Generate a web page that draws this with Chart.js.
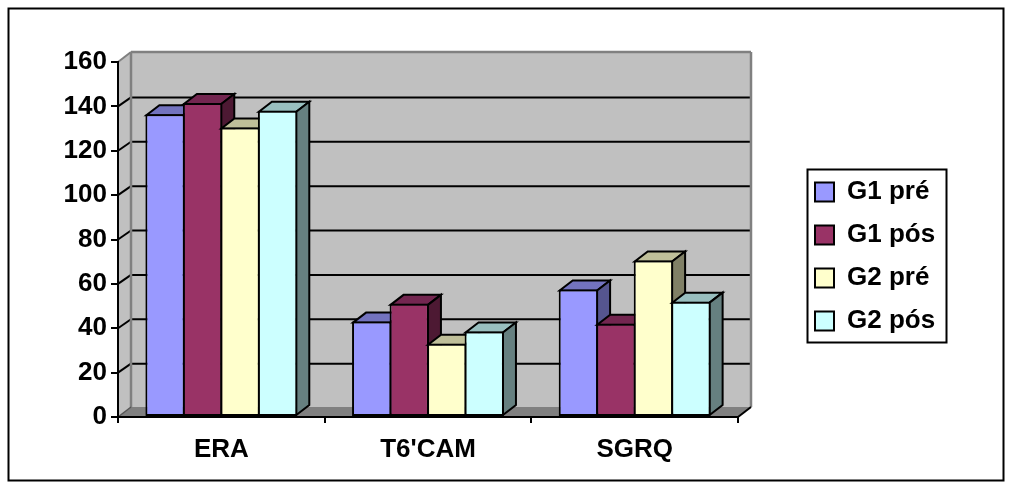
<!DOCTYPE html>
<html><head><meta charset="utf-8">
<script src="https://cdn.jsdelivr.net/npm/chart.js@4"></script>
<style>html,body{margin:0;padding:0;background:#fff}canvas{display:block}</style>
</head><body><canvas id="c" width="1013" height="485"></canvas>
<script>
const categories = ["ERA", "T6'CAM", "SGRQ"];
const g1Pre = [136.5, 43, 57.5];
const g1Pos = [141.5, 51, 42];
const g2Pre = [130.5, 33, 70.5];
const g2Pos = [138, 38.5, 52];
const seriesNames = ["G1 pré", "G1 pós", "G2 pré", "G2 pós"];
const frontColors = ["#9999ff", "#993366", "#ffffcc", "#ccffff"];
const topColors = ["#7373bf", "#732650", "#bfbf99", "#99bfbf"];
const sideColors = ["#55558f", "#4d1933", "#808066", "#668080"];
const DX = 13, DY = 10;
const FONT = {family: "'Liberation Sans', Arial, sans-serif", weight: "bold", size: 26};

function poly(ctx, pts, fill, stroke, w) {
  ctx.beginPath();
  pts.forEach((p, i) => i ? ctx.lineTo(p[0], p[1]) : ctx.moveTo(p[0], p[1]));
  ctx.closePath();
  if (fill) { ctx.fillStyle = fill; ctx.fill(); }
  if (stroke) { ctx.strokeStyle = stroke; ctx.lineWidth = w; ctx.stroke(); }
}
function line(ctx, x1, y1, x2, y2, color, w) {
  ctx.beginPath(); ctx.moveTo(x1, y1); ctx.lineTo(x2, y2);
  ctx.strokeStyle = color; ctx.lineWidth = w; ctx.stroke();
}

const chart3d = {
  id: "chart3d",
  beforeDraw(chart) {
    const {ctx, chartArea: a, scales} = chart;
    ctx.save();
    ctx.fillStyle = "#fff"; ctx.fillRect(0, 0, chart.width, chart.height);
    ctx.strokeStyle = "#000"; ctx.lineWidth = 2; ctx.strokeRect(8.5, 8.5, 995, 472);
    const l = a.left, r = a.right, t = a.top, b = a.bottom;
    poly(ctx, [[l, b], [l + DX, b - DY], [l + DX, t - DY], [l, t]], "#c0c0c0");
    poly(ctx, [[l + DX, b - DY], [r + DX, b - DY], [r + DX, t - DY], [l + DX, t - DY]], "#c0c0c0");
    poly(ctx, [[l, b], [l + DX, b - DY], [r + DX, b - DY], [r, b]], "#808080");
    scales.y.ticks.forEach(tk => {
      const y = scales.y.getPixelForValue(tk.value);
      if (tk.value > scales.y.min && tk.value < scales.y.max) {
        line(ctx, l, y, l + DX, y - DY + 1, "#000", 2);
        line(ctx, l + DX, y - DY + 1, r + DX, y - DY + 1, "#000", 2);
      }
    });
    line(ctx, l, t, l + DX, t - DY, "#808080", 2);
    line(ctx, l + DX, t - DY, r + DX, t - DY, "#808080", 2.5);
    line(ctx, l + DX, t - DY, l + DX, b - DY, "#808080", 2.5);
    line(ctx, r + DX, t - DY, r + DX, b - DY, "#808080", 2.5);
    line(ctx, l, b, l + DX, b - DY, "#555", 1.5);
    line(ctx, r, b, r + DX, b - DY, "#000", 2);
    ctx.restore();
  },
  beforeDatasetsDraw(chart) {
    const {ctx} = chart;
    ctx.save();
    ctx.lineJoin = "miter";
    const nCat = categories.length, nSer = chart.data.datasets.length;
    for (let c = 0; c < nCat; c++) {
      for (let s = 0; s < nSer; s++) {
        const el = chart.getDatasetMeta(s).data[c];
        const {x, y, base, width} = el.getProps(["x", "y", "base", "width"], true);
        const L = x - width / 2 + 1, R = x + width / 2 - 1, T = y + 1, B = base - 1;
        poly(ctx, [[L, T], [R, T], [R + DX, T - DY], [L + DX, T - DY]], topColors[s], "#000", 2);
        poly(ctx, [[R, T], [R + DX, T - DY], [R + DX, B - DY], [R, B]], sideColors[s], "#000", 2);
        el.draw(ctx);
      }
    }
    ctx.restore();
    return false;
  },
  afterDraw(chart) {
    const {ctx} = chart;
    ctx.save();
    ctx.strokeStyle = "#000"; ctx.lineWidth = 2;
    ctx.strokeRect(807.5, 169.5, 139, 173);
    ctx.restore();
  },
  afterLayout(chart) {
    const lg = chart.legend;
    lg.left = 798; lg.top = 162;
    lg.right = 798 + lg.width; lg.bottom = 162 + lg.height;
  }
};

const series = [g1Pre, g1Pos, g2Pre, g2Pos];
new Chart(document.getElementById("c"), {
  type: "bar",
  plugins: [chart3d],
  data: {
    labels: categories,
    datasets: series.map((d, i) => ({
      label: seriesNames[i], data: d,
      backgroundColor: frontColors[i], borderColor: "#000", borderWidth: 2,
      borderSkipped: false, barPercentage: 1.05, categoryPercentage: 0.726
    }))
  },
  options: {
    responsive: false, animation: false,
    layout: {padding: {left: 0, top: 62, right: 275, bottom: 0}},
    plugins: {
      tooltip: {enabled: false},
      title: {display: false},
      legend: {
        position: "chartArea", align: "start",
        labels: {boxWidth: 19, boxHeight: 19, padding: 17, color: "#000", font: FONT}
      }
    },
    scales: {
      x: {
        afterFit(s) { s.height = 68; },
        grid: {drawOnChartArea: false, drawTicks: true, tickLength: 6, color: "#000", lineWidth: 2},
        border: {color: "#000", width: 2},
        ticks: {color: "#000", font: FONT, padding: 11, maxRotation: 0}
      },
      y: {
        min: 0, max: 160,
        afterFit(s) { s.width = 118; },
        grid: {drawOnChartArea: false, drawTicks: true, tickLength: 7, color: "#000", lineWidth: 2},
        border: {color: "#000", width: 2},
        ticks: {color: "#000", font: FONT, padding: 4, stepSize: 20, autoSkip: false}
      }
    }
  }
});
</script></body></html>
